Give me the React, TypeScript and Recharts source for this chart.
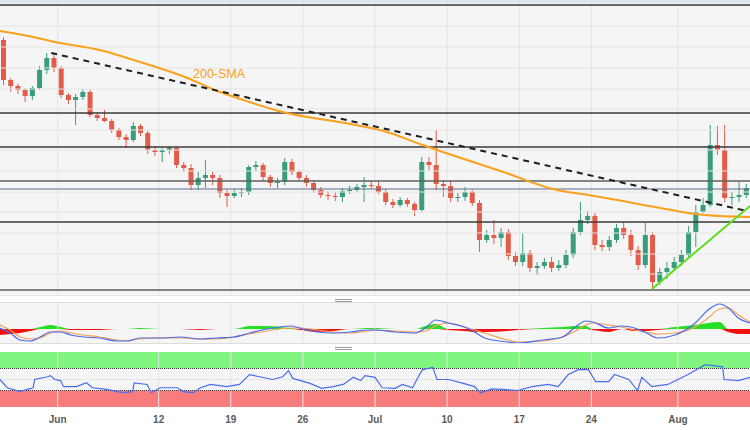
import React from 'react';
import {
  ComposedChart,
  Bar,
  Line,
  Area,
  XAxis,
  YAxis,
  ReferenceLine,
  ReferenceArea,
} from 'recharts';

// ---------- time axis (trading days counted from May 26) ----------
const tickDays = [4, 11, 16, 21, 26, 31, 36, 41, 47];
const tickLabels = ['Jun', '12', '19', '26', 'Jul', '10', '17', '24', 'Aug'];

// ---------- 12-hour candles (price in pips above base level) ----------
const open = [
  256, 216, 210, 206, 200, 208, 226, 238, 228, 201,
  196, 199, 204, 181, 178, 175, 166, 159, 156, 170,
  163, 146, 144, 146, 148, 131, 128, 111, 118, 121,
  118, 103, 100, 103, 104, 129, 131, 119, 113, 114,
  134, 124, 118, 113, 106, 101, 100, 99, 105, 106,
  109, 111, 110, 104, 94, 91, 96, 92, 86, 134,
  131, 112, 110, 98, 99, 104, 93, 56, 61, 58,
  64, 40, 34, 43, 28, 30, 34, 28, 31, 41,
  64, 76, 80, 51, 49, 56, 68, 61, 46, 31,
  61, 14, 24, 28, 34, 41, 64, 84, 91, 151,
  146, 98, 99, 101,
];
const high = [
  259, 218, 212, 208, 210, 230, 243, 241, 230, 203,
  202, 207, 206, 184, 186, 177, 168, 162, 174, 172,
  165, 150, 149, 150, 149, 134, 132, 124, 136, 124,
  121, 106, 107, 108, 131, 135, 133, 121, 118, 138,
  137, 126, 121, 116, 109, 105, 104, 108, 110, 112,
  119, 115, 114, 107, 97, 99, 98, 94, 139, 139,
  166, 116, 115, 103, 109, 106, 96, 66, 76, 68,
  67, 44, 63, 46, 34, 38, 39, 36, 46, 68,
  94, 85, 83, 56, 60, 72, 74, 66, 50, 73,
  64, 28, 34, 39, 46, 70, 91, 98, 171, 170,
  171, 104, 114, 112,
];
const low = [
  211, 204, 202, 194, 196, 206, 222, 224, 198, 192,
  171, 196, 179, 175, 174, 163, 156, 148, 154, 160,
  142, 140, 134, 142, 128, 124, 106, 106, 108, 111,
  98, 89, 98, 99, 101, 125, 115, 109, 108, 111,
  121, 115, 109, 103, 98, 96, 95, 94, 102, 104,
  94, 107, 102, 91, 88, 89, 89, 80, 84, 126,
  106, 99, 94, 94, 95, 90, 44, 53, 52, 49,
  36, 30, 30, 24, 21, 27, 24, 25, 28, 38,
  61, 72, 46, 45, 45, 53, 57, 40, 26, 28,
  7, 11, 17, 25, 30, 38, 49, 83, 89, 141,
  94, 91, 94, 98,
];
const close = [
  216, 210, 206, 200, 208, 226, 238, 228, 201, 196,
  199, 204, 181, 178, 175, 166, 159, 156, 170, 163,
  146, 144, 146, 148, 131, 128, 111, 118, 121, 118,
  103, 100, 103, 104, 129, 131, 119, 113, 114, 134,
  124, 118, 113, 106, 101, 100, 99, 105, 106, 109,
  111, 110, 104, 94, 91, 96, 92, 86, 134, 131,
  112, 110, 98, 99, 104, 93, 56, 61, 58, 64,
  40, 34, 43, 28, 30, 34, 28, 31, 41, 64,
  76, 80, 51, 49, 56, 68, 61, 46, 31, 61,
  14, 24, 28, 34, 41, 64, 84, 91, 151, 146,
  98, 99, 101, 108,
];

// ---------- 200-SMA ----------
const smaT = [0, 2.3, 3.8, 6.9, 9.7, 13.0, 14.9, 17.3, 19.6, 24.3, 26.6, 29.3, 30.3, 34.9, 38.6, 40.8, 45.4, 47.7, 48.9, 52];
const smaV = [265, 259, 254, 246, 234, 218, 206, 194, 184, 172, 165, 151, 146, 124, 106, 101, 89, 83, 81, 79];

// ---------- trend lines ----------
const downTrendT = [3.55, 51.8];
const downTrendV = [243, 85];
const upTrendT = [45.2, 52];
const upTrendV = [7, 90];

// ---------- horizontal levels ----------
const levelsDark = [291, 183, 149, 74];
const levelsGray = [115, 6];
const levelBlue = 107;
const priceGrid = [270, 249, 228, 207, 187, 166, 146, 125, 104, 84, 63, 42, 22];

// ---------- MACD ----------
const macdT = [
  0, 0.7, 1.4, 2.1, 2.8, 3.5, 4.2, 4.9, 5.8, 6.9,
  8.1, 8.8, 9.7, 11.1, 12.5, 13.9, 15.0, 16.2, 17.3, 18.5,
  20.1, 20.8, 22.0, 23.1, 24.3, 25.5, 26.0, 27.4, 28.8, 29.5,
  30.2, 31.1, 32.2, 32.9, 33.6, 35.2, 35.9, 37.6, 39.0, 39.9,
  40.6, 41.1, 42.2, 43.1, 44.0, 44.7, 45.6, 46.8, 48.2, 49.1,
  49.9, 50.5, 51.2, 52.0,
];
const macdLine = [
  1, -4, -11, -12, -8, -3, -3, -6, -8, -9,
  -12, -12, -9, -9, -8, -10, -9, -8, -4, 0,
  3, 1, -3, -4, -3, -1, -1, -3, -4, 1,
  9, 6, 2, -3, -9, -13, -14, -11, -8, 2,
  8, 7, 1, 3, 1, -3, -9, -6, 6, 19,
  25, 21, 11, 6,
];
const signalLine = [
  4, -1, -8, -10, -9, -4, -2, -4, -6, -8,
  -11, -12, -10, -9, -9, -10, -10, -8, -5, -2,
  1, 1, -1, -3, -4, -2, -1, -2, -3, -2,
  3, 6, 2, -1, -4, -11, -13, -12, -8, -2,
  4, 6, 4, 2, -1, -3, -5, -4, 2, 11,
  20, 21, 14, 7,
];
const histogram = [
  -6, -5, -4, -2, 2, 4, 2, -1, -1, -1,
  0, 0, 1, 0, 0, -1, 0, 0, 3, 3,
  1, -1, -3, -2, 0, 1, 1, 0, 0, 3,
  5, -1, -2, -3, -3, -2, -1, 1, 2, 3,
  3, -1, -3, 0, -2, -2, -1, 2, 4, 6,
  7, -3, -5, -5,
];

// ---------- RSI ----------
const rsiT = [
  0, 0.5, 1.4, 1.9, 2.3, 2.4, 3.3, 3.5, 3.8, 4.2,
  4.4, 5.3, 6.0, 6.4, 7.4, 8.5, 9.2, 9.3, 10.2, 10.5,
  11.1, 12.3, 12.7, 13.4, 13.9, 14.6, 15.7, 16.6, 17.3, 18.0,
  18.9, 19.6, 20.0, 20.3, 21.5, 22.3, 23.1, 23.8, 24.5, 25.0,
  25.3, 26.0, 26.5, 27.4, 27.9, 28.6, 29.0, 29.3, 30.0, 30.3,
  31.1, 32.0, 32.9, 33.3, 34.1, 34.8, 35.9, 36.9, 38.0, 38.7,
  39.4, 40.1, 40.8, 41.3, 42.2, 42.6, 43.6, 44.2, 44.5, 45.2,
  46.3, 47.0, 47.7, 48.9, 50.1, 50.2, 51.2, 52.0,
];
const rsiV = [
  50, 35, 28, 32, 35, 50, 55, 57, 50, 48,
  37, 37, 44, 35, 32, 26, 28, 44, 41, 26,
  35, 35, 28, 26, 35, 41, 37, 41, 59, 55,
  50, 55, 66, 52, 43, 34, 37, 41, 54, 48,
  57, 54, 35, 34, 41, 35, 55, 68, 72, 50,
  50, 44, 37, 26, 33, 32, 30, 37, 41, 37,
  59, 68, 68, 46, 46, 59, 50, 30, 54, 37,
  41, 50, 59, 77, 73, 50, 48, 54,
];

// ---------- tables built from the arrays ----------
const candleData = open.map((o, i) => ({
  t: i * 0.5 + 0.25,
  open: o,
  high: high[i],
  low: low[i],
  close: close[i],
  range: [low[i], high[i]],
}));
const smaData = smaT.map((t, i) => ({ t, v: smaV[i] }));
const macdData = macdT.map((t, i) => ({
  t,
  macd: macdLine[i],
  signal: signalLine[i],
  pos: Math.max(histogram[i], 0),
  neg: Math.min(histogram[i], 0),
}));
const rsiData = rsiT.map((t, i) => ({ t, v: rsiV[i] }));

const W = 750;
const X_DOMAIN: [number, number] = [0, 52];
const GREEN = '#399d7b';
const RED = '#e25c49';
const ORANGE = '#f9a11b';
const BLUE = '#4a6cf0';
const GRID = '#e4e4e4';
const FONT = 'Arial, "Liberation Sans", sans-serif';

function Candle(props: any) {
  const { x, y, width, height, payload } = props;
  if (!payload || x == null || y == null) return null;
  const { open: o, close: c, high: h, low: l } = payload;
  const cx = x + width / 2;
  const span = h - l || 1;
  const py = (v: number) => y + ((h - v) / span) * height;
  const color = c >= o ? GREEN : RED;
  const top = py(Math.max(o, c));
  const bot = py(Math.min(o, c));
  return (
    <g>
      <line x1={cx} x2={cx} y1={y} y2={y + height} stroke={color} strokeWidth={1} />
      <rect x={cx - 2.5} y={top} width={5} height={Math.max(1, bot - top)} fill={color} />
    </g>
  );
}

const vGrid = (key: string) =>
  tickDays.map((d) => (
    <ReferenceLine key={key + d} x={d} stroke={GRID} strokeWidth={1} ifOverflow="extendDomain" />
  ));

function Handle({ top }: { top: number }) {
  return (
    <div style={{ position: 'absolute', left: 335, top, width: 17, height: 4 }}>
      <div style={{ position: 'absolute', left: 0, top: 0, width: 17, height: 1, background: '#9a9a9a' }} />
      <div style={{ position: 'absolute', left: 0, top: 2, width: 17, height: 1, background: '#9a9a9a' }} />
    </div>
  );
}

export default function App() {
  React.useEffect(() => {
    document.body.style.margin = '0';
  }, []);
  const margin = { top: 0, right: 0, bottom: 0, left: 0 };
  return (
    <div
      style={{
        position: 'fixed',
        left: 0,
        top: 0,
        width: W,
        height: 430,
        background: '#ffffff',
        overflow: 'hidden',
        fontFamily: FONT,
      }}
    >
      {/* top strip */}
      <div style={{ position: 'absolute', left: 0, top: 0, width: W, height: 3, background: '#dfe5ee' }} />
      {/* main panel background */}
      <div style={{ position: 'absolute', left: 0, top: 3, width: W, height: 291, background: '#f5f5f5' }} />
      <div style={{ position: 'absolute', left: 0, top: 295, width: W, height: 1, background: '#e2e2e2' }} />

      {/* main price panel: grid, levels, candles */}
      <div style={{ position: 'absolute', left: 0, top: 0 }}>
        <ComposedChart width={W} height={296} data={candleData} margin={margin}>
          <XAxis type="number" dataKey="t" domain={X_DOMAIN} hide allowDataOverflow />
          <YAxis type="number" domain={[0, 296]} hide allowDataOverflow />
          {priceGrid.map((g) => (
            <ReferenceLine key={'g' + g} y={g} stroke={GRID} strokeWidth={1} />
          ))}
          {vGrid('m')}
          {levelsDark.map((l) => (
            <ReferenceLine key={'d' + l} y={l} stroke="#3a3a3a" strokeWidth={1.5} />
          ))}
          {levelsGray.map((l) => (
            <ReferenceLine key={'s' + l} y={l} stroke="#5e5e5e" strokeWidth={1.5} />
          ))}
          <ReferenceLine y={levelBlue} stroke="#5b6d8c" strokeWidth={1} />
          <Bar dataKey="range" barSize={5} shape={<Candle />} isAnimationActive={false} />
        </ComposedChart>
      </div>

      {/* overlay: 200-SMA and trend lines */}
      <div style={{ position: 'absolute', left: 0, top: 0 }}>
        <ComposedChart width={W} height={296} data={smaData} margin={margin}>
          <XAxis type="number" dataKey="t" domain={X_DOMAIN} hide allowDataOverflow />
          <YAxis type="number" domain={[0, 296]} hide allowDataOverflow />
          <Line
            dataKey="v"
            type="monotone"
            stroke={ORANGE}
            strokeWidth={2}
            dot={false}
            isAnimationActive={false}
          />
          <ReferenceLine
            segment={[
              { x: downTrendT[0], y: downTrendV[0] },
              { x: downTrendT[1], y: downTrendV[1] },
            ]}
            stroke="#1e1e1e"
            strokeWidth={2}
            strokeDasharray="6 5"
          />
          <ReferenceLine
            segment={[
              { x: upTrendT[0], y: upTrendV[0] },
              { x: upTrendT[1], y: upTrendV[1] },
            ]}
            stroke="#5fdc1e"
            strokeWidth={2}
          />
        </ComposedChart>
      </div>
      <svg style={{ position: 'absolute', left: 0, top: 0 }} width={W} height={100}>
        <text x={193} y={78} fontSize={12.5} fill={ORANGE} fontFamily={FONT}>
          200-SMA
        </text>
      </svg>

      <Handle top={299} />

      {/* MACD panel */}
      <div
        style={{
          position: 'absolute',
          left: 0,
          top: 302,
          width: W,
          height: 42,
          background: '#f5f5f5',
          borderTop: '1px solid #dcdcdc',
          borderBottom: '1px solid #dcdcdc',
          boxSizing: 'border-box',
        }}
      />
      <div style={{ position: 'absolute', left: 0, top: 303 }}>
        <ComposedChart width={W} height={40} data={macdData} margin={margin}>
          <XAxis type="number" dataKey="t" domain={X_DOMAIN} hide allowDataOverflow />
          <YAxis type="number" domain={[-14, 26]} hide allowDataOverflow />
          {vGrid('c')}
          <Area
            dataKey="pos"
            type="monotone"
            stroke="none"
            fill="#27de27"
            fillOpacity={1}
            baseValue={0}
            isAnimationActive={false}
          />
          <Area
            dataKey="neg"
            type="monotone"
            stroke="none"
            fill="#f01010"
            fillOpacity={1}
            baseValue={0}
            isAnimationActive={false}
          />
          <Line dataKey="signal" type="monotone" stroke="#f5a155" strokeWidth={1.2} dot={false} isAnimationActive={false} />
          <Line dataKey="macd" type="monotone" stroke={BLUE} strokeWidth={1.2} dot={false} isAnimationActive={false} />
        </ComposedChart>
      </div>

      <Handle top={347} />

      {/* RSI panel */}
      <div style={{ position: 'absolute', left: 0, top: 352, width: W, height: 55, background: '#f5f5f5' }} />
      <div style={{ position: 'absolute', left: 0, top: 352 }}>
        <ComposedChart width={W} height={78} data={rsiData} margin={margin}>
          <XAxis
            type="number"
            dataKey="t"
            domain={X_DOMAIN}
            allowDataOverflow
            ticks={tickDays}
            interval={0}
            tickFormatter={(d: number) => tickLabels[tickDays.indexOf(d)] ?? ''}
            axisLine={false}
            tickLine={false}
            tickSize={0}
            tickMargin={9}
            height={23}
            tick={{ fontSize: 10, fontWeight: 'bold', fill: '#5a5a5a', fontFamily: FONT }}
          />
          <YAxis type="number" domain={[0, 100]} hide allowDataOverflow />
          {vGrid('r')}
          <ReferenceLine y={50} stroke={GRID} strokeWidth={1} />
          <ReferenceArea y1={70} y2={100} fill="#80f57f" fillOpacity={1} stroke="none" />
          <ReferenceArea y1={0} y2={30} fill="#f87c7c" fillOpacity={1} stroke="none" />
          <ReferenceLine y={70} stroke="#333" strokeDasharray="1 1" strokeWidth={1} />
          <ReferenceLine y={30} stroke="#333" strokeDasharray="1 1" strokeWidth={1} />
          <Line dataKey="v" type="linear" stroke={BLUE} strokeWidth={1.2} dot={false} isAnimationActive={false} />
        </ComposedChart>
      </div>
    </div>
  );
}
